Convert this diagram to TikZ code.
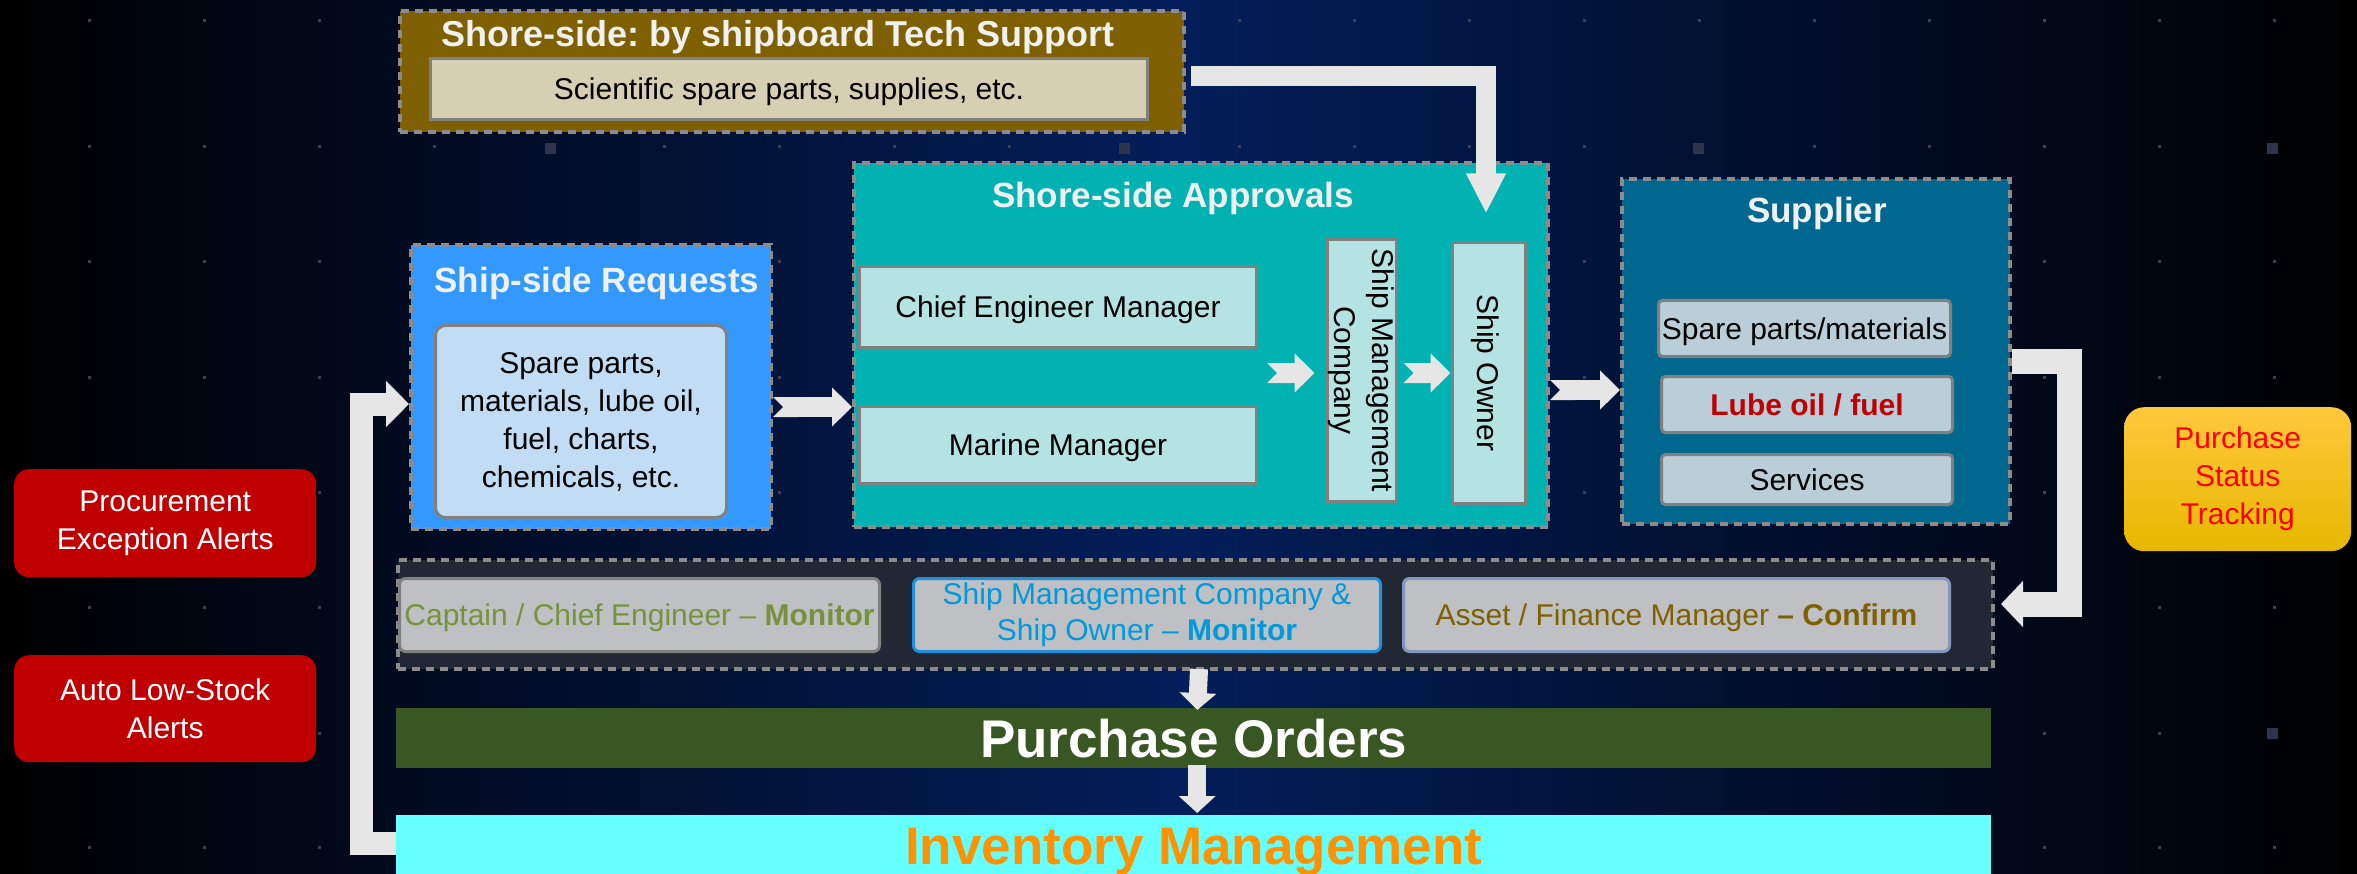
\documentclass[tikz,border=0pt]{standalone}
\usepackage{fontspec}
\setmainfont{Liberation Sans}
\usetikzlibrary{arrows.meta,calc}

\definecolor{sfondo}{RGB}{3,30,90}
\definecolor{puntino}{RGB}{58,64,82}
\definecolor{quadretto}{RGB}{45,52,75}
\definecolor{grigio}{RGB}{140,140,140}
\definecolor{bordo}{RGB}{128,128,128}
\definecolor{bianco}{RGB}{240,240,240}
\definecolor{marrone}{RGB}{127,96,0}
\definecolor{beige}{RGB}{214,207,180}
\definecolor{azzurro}{RGB}{51,153,255}
\definecolor{celestino}{RGB}{194,220,243}
\definecolor{verdeacqua}{RGB}{0,178,178}
\definecolor{acquachiaro}{RGB}{181,227,227}
\definecolor{petrolio}{RGB}{0,104,143}
\definecolor{grigioazzurro}{RGB}{185,206,216}
\definecolor{rossoscuro}{RGB}{192,0,0}
\definecolor{oro1}{RGB}{255,200,60}
\definecolor{oro2}{RGB}{230,184,0}
\definecolor{ardesia}{RGB}{34,40,51}
\definecolor{grigiochiaro}{RGB}{191,192,196}
\definecolor{oliva}{RGB}{118,146,60}
\definecolor{blu}{RGB}{0,153,218}
\definecolor{bordoblu}{RGB}{30,144,224}
\definecolor{bordoasset}{RGB}{130,150,190}
\definecolor{verdone}{RGB}{57,87,35}
\definecolor{ciano}{RGB}{102,255,255}
\definecolor{arancio}{RGB}{255,146,0}
\definecolor{chiaro}{RGB}{230,230,230}

\newcommand{\corpo}{\fontsize{30}{38}\selectfont}
\newcommand{\titoletto}{\bfseries\fontsize{35}{42}\selectfont}

\begin{document}
\begin{tikzpicture}[x=1pt,y=-1pt,
    cornice/.style={draw=grigio, line width=4pt, dash pattern=on 8pt off 6pt, inner sep=0pt, anchor=north west},
    scatola/.style={draw=bordo, line width=3pt, inner sep=0pt, anchor=north west, align=center, font=\corpo},
    riga/.style={text height=21.5pt, text depth=0pt},
    titolo/.style={inner sep=0pt, text=bianco, font=\titoletto, text height=25pt, text depth=0pt},
    avviso/.style={fill=rossoscuro, rounded corners=15pt, text=white, align=center, font=\corpo, inner sep=0pt, anchor=north west},
    barra/.style={inner sep=0pt, anchor=north west, minimum width=1595pt, minimum height=60pt, font=\bfseries\fontsize{53}{60}\selectfont, text height=38pt, text depth=0pt},
    gomito/.style={draw=chiaro},
    tacca/.style={draw=chiaro, line width=20pt, {Triangle Cap[reversed]}-{Triangle[length=20pt,width=38pt]}},
    giu/.style={draw=chiaro, line width=18pt, -{Triangle[length=17pt,width=36pt]}}]

    \useasboundingbox (0,0) rectangle (2357,874);
    \clip (0,0) rectangle (2357,874);

    % Sfondo con sfumatura e griglia di puntini
    \shade[left color=black, right color=black, middle color=sfondo] (0,0) rectangle (2357,874);
    \foreach \x in {0,...,19}
        \foreach \y in {21,147,262,377,492,607,733,847}
            \fill[puntino] (89+115*\x-1.5,\y-1.5) rectangle ++(3,3);
    \foreach \x/\y in {550/149,1124/149,1698/149,2272/149,2272/733}
        \fill[quadretto] (\x-5.5,\y-5.5) rectangle ++(11,11);

    % Supporto tecnico a terra
    \node[cornice, fill=marrone, minimum width=784pt, minimum height=121pt] (tech) at (398,9) {};
    \node[titolo, font=\bfseries\fontsize{36}{43}\selectfont, text height=25.8pt] (techtit) at (778,34) {Shore-side:\ by shipboard Tech Support};
    \node[scatola, riga, fill=beige, minimum width=717pt, minimum height=61pt] (sci) at (429,57) {Scientific spare parts, supplies, etc.};

    % Richieste dalla nave
    \node[cornice, fill=azzurro, minimum width=360pt, minimum height=284pt] (req) at (409,243) {};
    \node[titolo] (reqtit) at (597,280.5) {Ship-side Requests};
    \node[scatola, fill=celestino, rounded corners=10pt, minimum width=291pt, minimum height=192pt] (reqin) at (434,324) {Spare parts,\\materials, lube oil,\\fuel, charts,\\chemicals, etc.};

    % Approvazioni a terra
    \node[cornice, fill=verdeacqua, minimum width=694pt, minimum height=364pt] (appr) at (852,161) {};
    \node[titolo] (apprtit) at (1173,195.5) {Shore-side Approvals};
    \node[scatola, riga, fill=acquachiaro, minimum width=397pt, minimum height=81pt] (chief) at (858,265) {Chief Engineer Manager};
    \node[scatola, riga, fill=acquachiaro, minimum width=397pt, minimum height=77pt] (marine) at (858,405) {Marine Manager};
    \node[scatola, fill=acquachiaro, rotate=-90, anchor=center, minimum width=261pt, minimum height=69pt] (smc) at (1361.5,370.5) {Ship Management\\Company};
    \node[scatola, riga, fill=acquachiaro, rotate=-90, anchor=center, minimum width=260pt, minimum height=73pt] (owner) at (1488.5,373) {Ship Owner};

    % Fornitore
    \node[cornice, fill=petrolio, minimum width=388pt, minimum height=345pt] (supplier) at (1620,177) {};
    \node[titolo] (suptit) at (1817,210.5) {Supplier};
    \node[scatola, riga, fill=grigioazzurro, rounded corners=4pt, minimum width=292pt, minimum height=56pt] (spare) at (1657,299) {Spare parts/materials};
    \node[scatola, riga, fill=grigioazzurro, rounded corners=4pt, minimum width=291pt, minimum height=56pt, text=rossoscuro, font=\corpo\bfseries] (lube) at (1660,375) {Lube oil / fuel};
    \node[scatola, riga, fill=grigioazzurro, rounded corners=4pt, minimum width=291pt, minimum height=50pt] (serv) at (1660,453) {Services};

    % Avvisi e stato ordini
    \node[avviso, minimum width=302pt, minimum height=108pt] (exc) at (14,469) {Procurement\\Exception Alerts};
    \node[avviso, minimum width=302pt, minimum height=107pt] (lowstock) at (14,655) {Auto Low-Stock\\Alerts};
    \node[anchor=north west, inner sep=0pt, rounded corners=20pt, top color=oro1, bottom color=oro2, minimum width=227pt, minimum height=144pt, text=red, align=center, font=\corpo] (track) at (2124,407) {Purchase\\Status\\Tracking};

    % Fascia di controllo
    \node[cornice, fill=ardesia, minimum width=1595pt, minimum height=109pt] (band) at (396,558) {};
    \node[scatola, riga, fill=grigiochiaro, rounded corners=6pt, text=oliva, minimum width=480pt, minimum height=73pt] (capt) at (398,577) {Captain / Chief Engineer – \textbf{Monitor}};
    \node[scatola, fill=grigiochiaro, draw=bordoblu, rounded corners=6pt, text=blu, minimum width=467pt, minimum height=73pt, font=\fontsize{30}{36}\selectfont] (owners) at (912,577) {Ship Management Company \&\\Ship Owner – \textbf{Monitor}};
    \node[scatola, riga, fill=grigiochiaro, draw=bordoasset, rounded corners=6pt, text=marrone, minimum width=546pt, minimum height=73pt] (asset) at (1402,577) {Asset / Finance Manager \textbf{– Confirm}};

    % Ordini e magazzino
    \node[barra, fill=verdone, text=white] (po) at (396,708) {Purchase Orders};
    \node[barra, fill=ciano, text=arancio] (inv) at (396,815) {Inventory Management};

    % Frecce
    \draw[gomito, line width=20pt, -{Triangle[length=40pt,width=37pt]}] ($(tech.east)+(5,4.5)$) -| ($(owner.west)+(-2.5,-28)$);
    \coordinate (gomitosx) at (361.5,404);
    \draw[gomito, line width=23pt, -{Triangle[length=23pt,width=45pt]}] (inv.west |- 0,843) -| (gomitosx) -- (req.west |- gomitosx);
    \coordinate (gomitodx) at (2069.5,604);
    \draw[gomito, line width=25pt, -{Triangle[length=22pt,width=45pt]}] (supplier.east |- 0,361) -| (gomitodx) -- ($(band.east |- gomitodx)+(6,0)$);

    \draw[tacca] (req.east |- 0,407) -- (appr.west |- 0,407);
    \draw[tacca] ($(chief.east |- smc.south)+(9,2.5)$) -- ($(smc.south)+(-11,2.5)$);
    \draw[tacca] ($(smc.north)+(6,2.5)$) -- (owner.south);
    \draw[tacca] (appr.east |- 0,390) -- (supplier.west |- 0,390);

    \draw[giu] ($(band.south)+(3.5,-2)$) -- ($(po.north)+(3.5,2)$);
    \draw[giu] ($(po.south)+(3.5,-3)$) -- ($(inv.north)+(3.5,-2)$);
\end{tikzpicture}
\end{document}
